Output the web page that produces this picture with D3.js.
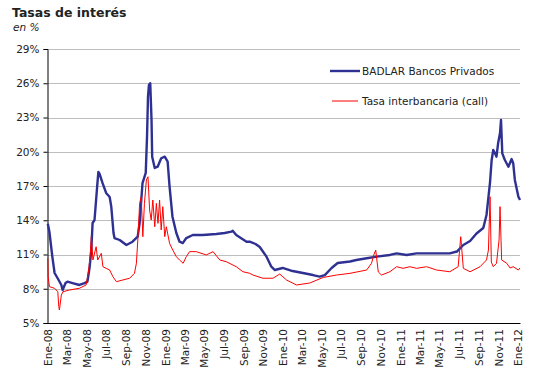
<!DOCTYPE html>
<html><head><meta charset="utf-8">
<script src="https://cdn.jsdelivr.net/npm/d3@7"></script>
<style>body{margin:0;background:#fff} svg{display:block}</style>
</head><body><svg id="c" width="533" height="383"></svg>
<script>
const badlarDates = ["2008-01-02","2008-01-07","2008-01-16","2008-01-23","2008-02-01","2008-02-13","2008-02-17","2008-02-26","2008-03-03","2008-03-19","2008-04-09","2008-04-25","2008-05-04","2008-05-11","2008-05-16","2008-05-20","2008-05-26","2008-06-04","2008-06-07","2008-06-11","2008-06-20","2008-07-01","2008-07-12","2008-07-17","2008-07-24","2008-07-27","2008-08-12","2008-09-02","2008-09-21","2008-10-07","2008-10-13","2008-10-22","2008-11-01","2008-11-05","2008-11-08","2008-11-11","2008-11-15","2008-11-19","2008-11-21","2008-11-29","2008-12-08","2008-12-19","2008-12-30","2009-01-08","2009-01-14","2009-01-23","2009-02-04","2009-02-14","2009-02-24","2009-03-07","2009-03-27","2009-04-27","2009-06-08","2009-07-04","2009-07-25","2009-07-29","2009-08-09","2009-09-10","2009-09-20","2009-10-08","2009-10-21","2009-11-11","2009-11-26","2009-12-07","2009-12-31","2010-01-31","2010-03-04","2010-04-04","2010-04-25","2010-05-11","2010-06-01","2010-06-20","2010-07-28","2010-08-17","2010-09-18","2010-10-19","2010-11-29","2010-12-20","2011-01-20","2011-02-20","2011-04-12","2011-06-03","2011-06-25","2011-07-15","2011-08-05","2011-08-25","2011-09-15","2011-09-25","2011-09-30","2011-10-06","2011-10-11","2011-10-16","2011-10-21","2011-10-26","2011-10-31","2011-11-06","2011-11-09","2011-11-13","2011-11-21","2011-12-02","2011-12-12","2011-12-17","2011-12-22","2012-01-02","2012-01-07"];
const badlarValues = [13.7,12.97,10.81,9.38,8.94,8.33,7.89,8.5,8.62,8.5,8.33,8.5,8.62,9.93,11.39,13.76,14.02,17.26,18.23,18.05,17.26,16.39,16.04,15.19,12.88,12.44,12.27,11.83,12.12,12.56,13.76,17.26,18.14,21.32,24.82,25.85,26.0,22.78,19.57,18.58,18.69,19.43,19.57,19.13,16.94,14.31,12.88,12.12,12.0,12.44,12.71,12.71,12.8,12.88,13.0,13.08,12.71,12.12,12.12,11.92,11.66,10.81,9.93,9.64,9.82,9.55,9.38,9.2,9.06,9.2,9.82,10.26,10.39,10.52,10.67,10.81,10.96,11.1,10.96,11.1,11.1,11.1,11.26,11.83,12.18,12.84,13.32,14.46,15.77,17.35,19.28,20.15,19.89,19.57,20.74,21.64,22.78,19.86,19.28,18.69,19.36,18.99,17.53,16.06,15.77];
const callDates = ["2008-01-02","2008-01-03","2008-01-07","2008-01-23","2008-02-02","2008-02-05","2008-02-07","2008-02-13","2008-02-18","2008-03-09","2008-04-09","2008-04-30","2008-05-08","2008-05-13","2008-05-16","2008-05-21","2008-05-31","2008-06-05","2008-06-16","2008-06-21","2008-07-01","2008-07-12","2008-07-22","2008-08-02","2008-08-22","2008-09-12","2008-09-27","2008-10-03","2008-10-08","2008-10-13","2008-10-18","2008-10-23","2008-10-28","2008-11-03","2008-11-08","2008-11-13","2008-11-18","2008-11-23","2008-11-29","2008-12-04","2008-12-09","2008-12-14","2008-12-19","2008-12-24","2008-12-30","2009-01-04","2009-01-14","2009-01-24","2009-02-04","2009-02-14","2009-02-25","2009-03-07","2009-03-17","2009-04-07","2009-05-08","2009-05-29","2009-06-19","2009-07-09","2009-08-09","2009-08-30","2009-09-20","2009-09-30","2009-10-31","2009-12-01","2009-12-22","2010-01-12","2010-02-12","2010-03-25","2010-05-06","2010-06-16","2010-07-28","2010-09-18","2010-10-03","2010-10-10","2010-10-16","2010-10-24","2010-11-03","2010-11-29","2010-12-20","2011-01-09","2011-01-30","2011-02-20","2011-03-23","2011-04-23","2011-06-03","2011-06-29","2011-07-07","2011-07-15","2011-08-05","2011-09-05","2011-09-25","2011-10-01","2011-10-06","2011-10-10","2011-10-16","2011-10-26","2011-11-03","2011-11-06","2011-11-11","2011-11-27","2011-12-07","2011-12-17","2012-01-02","2012-01-07"];
const callValues = [10.69,9.06,8.18,8.04,7.74,6.43,6.14,7.45,7.74,7.89,8.04,8.33,9.64,11.1,12.56,10.52,11.68,10.52,11.1,9.93,9.79,9.64,9.06,8.62,8.77,8.92,9.35,10.23,12.56,15.48,16.06,12.56,15.48,17.53,17.81,14.9,14.02,15.77,13.43,15.48,13.73,15.77,13.15,15.19,12.56,13.43,11.98,11.39,10.81,10.52,10.23,10.81,11.25,11.25,10.96,11.25,10.52,10.37,9.93,9.49,9.35,9.2,8.92,8.92,9.29,8.77,8.33,8.5,8.99,9.2,9.35,9.64,10.23,10.96,11.39,9.47,9.2,9.49,9.93,9.79,9.93,9.79,9.93,9.64,9.49,9.93,12.56,9.79,9.49,9.93,10.52,11.39,16.06,10.34,9.93,10.23,12.27,15.19,10.52,10.23,9.82,9.93,9.64,9.82];
const yTicks = [5,8,11,14,17,20,23,26,29];
const monthNames = ["Ene","Feb","Mar","Abr","May","Jun","Jul","Ago","Sep","Oct","Nov","Dic"];
const seriesNames = ["BADLAR Bancos Privados","Tasa interbancaria (call)"];
const titleText = "Tasas de interés";
const subtitleText = "en %";

const parse = d3.timeParse("%Y-%m-%d");
const svg = d3.select("#c");
const FONT = "'DejaVu Sans', sans-serif";
const L = 47.5, R = 520, T = 49, B = 323;

const x = d3.scaleTime().domain([parse("2008-01-01"), parse("2012-01-07")]).range([L, R]);
const y = d3.scaleLinear().domain([5, 29]).range([B, T]);

// title
svg.append("text").attr("x", 12).attr("y", 17).attr("font-family", FONT).attr("font-weight", "bold")
  .attr("font-size", 12.5).attr("fill", "#222").text(titleText);
svg.append("text").attr("x", 13).attr("y", 31).attr("font-family", FONT).attr("font-style", "italic")
  .attr("font-size", 10.5).attr("fill", "#222").text(subtitleText);

// gridlines
svg.append("g").selectAll("line").data(yTicks.filter(d => d > 5)).join("line")
  .attr("x1", L).attr("x2", R).attr("y1", d => Math.round(y(d)) + 0.5).attr("y2", d => Math.round(y(d)) + 0.5)
  .attr("stroke", "#bdbdbd").attr("stroke-width", 1);

// y axis
const yAxis = d3.axisLeft(y).tickValues(yTicks).tickFormat(d => d + "%").tickSize(4).tickPadding(4);
const gy = svg.append("g").attr("transform", `translate(${L},0)`).call(yAxis);
gy.select(".domain").attr("stroke", "#000");
gy.selectAll(".tick line").attr("stroke", "#000");
gy.selectAll("text").attr("font-family", FONT).attr("font-size", 10.5).attr("fill", "#222");

// x axis
const xTickDates = d3.timeMonth.range(parse("2008-01-01"), parse("2012-01-02"), 2);
const xAxis = d3.axisBottom(x).tickValues(xTickDates).tickSize(0).tickPadding(5)
  .tickFormat(d => monthNames[d.getMonth()] + "-" + String(d.getFullYear()).slice(2));
const gx = svg.append("g").attr("transform", `translate(0,${B})`).call(xAxis);
gx.select(".domain").attr("stroke", "#000");
gx.selectAll("text").attr("font-family", FONT).attr("font-size", 10.5).attr("fill", "#222")
  .attr("transform", "rotate(-90)").attr("text-anchor", "end").attr("dy", "0.35em").attr("x", -6).attr("y", 0);

// lines
const badlar = badlarDates.map((d, i) => ({d: parse(d), v: badlarValues[i]}));
const call = callDates.map((d, i) => ({d: parse(d), v: callValues[i]}));
const line = d3.line().x(p => x(p.d)).y(p => y(p.v));
svg.append("path").datum(badlar).attr("d", line).attr("fill", "none").attr("stroke", "#2e3192")
  .attr("stroke-width", 2.4).attr("stroke-linejoin", "round");
svg.append("path").datum(call).attr("d", line).attr("fill", "none").attr("stroke", "#ff0000")
  .attr("stroke-width", 1).attr("stroke-linejoin", "round");

// legend
const legend = [
  {name: seriesNames[0], color: "#2e3192", w: 2.4, y: 71, x1: 330, x2: 360},
  {name: seriesNames[1], color: "#ff0000", w: 1, y: 101, x1: 332, x2: 358}
];
const lg = svg.append("g");
legend.forEach(l => {
  lg.append("line").attr("x1", l.x1).attr("x2", l.x2).attr("y1", l.y).attr("y2", l.y)
    .attr("stroke", l.color).attr("stroke-width", l.w);
  lg.append("text").attr("x", 362).attr("y", l.y + 4).attr("font-family", FONT).attr("font-size", 10.5)
    .attr("fill", "#222").text(l.name);
});
</script>
</body></html>
